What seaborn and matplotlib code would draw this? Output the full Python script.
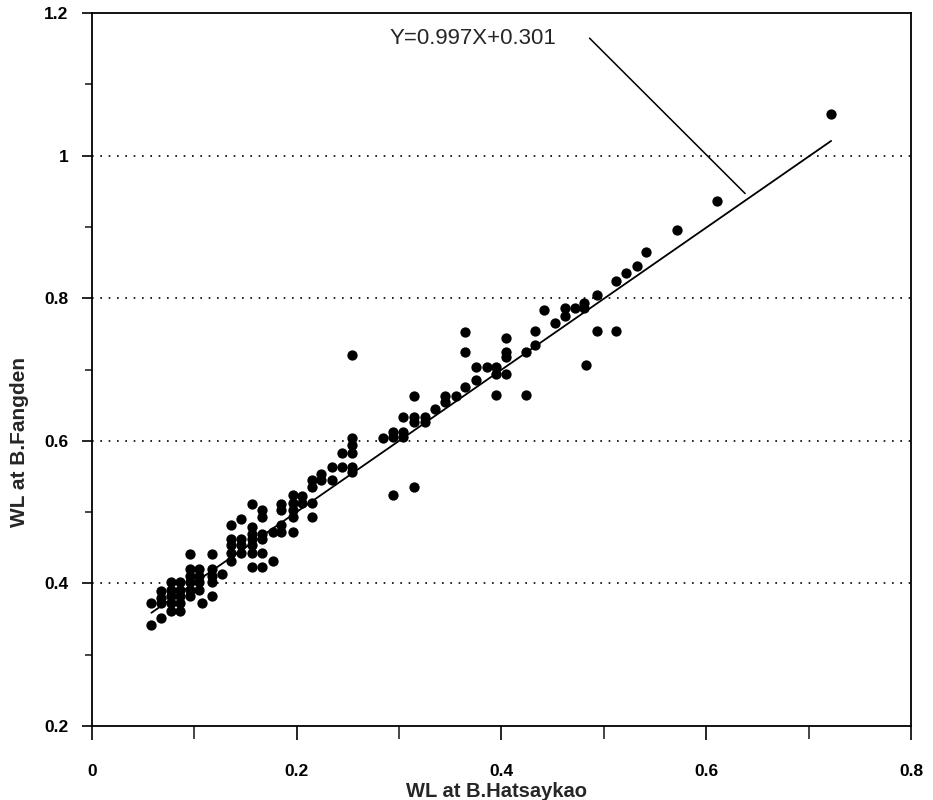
# ============================================================================
# LIBRARY IMPORTS
# ============================================================================
import pandas as pd
import matplotlib.pyplot as plt
from matplotlib.ticker import MultipleLocator
import seaborn as sns

# ============================================================================
# DATA
# ============================================================================
wl_hatsaykao = [
    0.058, 0.067, 0.058, 0.067, 0.067, 0.067,
    0.077, 0.077, 0.077, 0.077, 0.077,
    0.086, 0.086, 0.086, 0.086, 0.086,
    0.096, 0.096, 0.096, 0.096, 0.096, 0.096,
    0.105, 0.105, 0.105, 0.105, 0.107,
    0.117, 0.117, 0.117, 0.117, 0.117, 0.127,
    0.136, 0.136, 0.136, 0.136, 0.136,
    0.146, 0.146, 0.146, 0.146,
    0.156, 0.156, 0.156, 0.156, 0.156, 0.156, 0.156,
    0.166, 0.166, 0.166, 0.166, 0.166, 0.166,
    0.177, 0.177,
    0.185, 0.185, 0.185, 0.185,
    0.196, 0.196, 0.196, 0.196, 0.196,
    0.205, 0.205,
    0.215, 0.215, 0.215, 0.215,
    0.224, 0.224, 0.234, 0.234, 0.244, 0.244,
    0.254, 0.254, 0.254, 0.254, 0.254, 0.254,
    0.284, 0.294, 0.294, 0.294, 0.304, 0.304, 0.304,
    0.315, 0.315, 0.315, 0.315, 0.325, 0.325, 0.335,
    0.345, 0.345, 0.356, 0.364, 0.364, 0.364,
    0.375, 0.375, 0.386, 0.395, 0.395, 0.395,
    0.404, 0.404, 0.404, 0.404, 0.424, 0.424,
    0.433, 0.433, 0.442, 0.452, 0.462, 0.462, 0.472,
    0.481, 0.481, 0.483, 0.493, 0.493, 0.512, 0.512,
    0.522, 0.532, 0.541, 0.571, 0.611, 0.722,
]
wl_fangden = [
    0.341, 0.352, 0.372, 0.390, 0.380, 0.372,
    0.402, 0.391, 0.382, 0.372, 0.362,
    0.402, 0.391, 0.382, 0.372, 0.362,
    0.442, 0.420, 0.411, 0.402, 0.391, 0.382,
    0.420, 0.411, 0.402, 0.391, 0.372,
    0.442, 0.420, 0.411, 0.402, 0.383, 0.413,
    0.482, 0.463, 0.454, 0.443, 0.432,
    0.491, 0.463, 0.454, 0.443,
    0.511, 0.479, 0.470, 0.463, 0.454, 0.443, 0.423,
    0.503, 0.493, 0.470, 0.463, 0.443, 0.423,
    0.472, 0.432,
    0.512, 0.503, 0.482, 0.472,
    0.524, 0.513, 0.503, 0.493, 0.472,
    0.522, 0.513,
    0.545, 0.535, 0.513, 0.493,
    0.554, 0.545, 0.563, 0.545, 0.583, 0.563,
    0.721, 0.604, 0.594, 0.583, 0.563, 0.556,
    0.604, 0.613, 0.606, 0.524, 0.613, 0.606, 0.634,
    0.634, 0.627, 0.663, 0.535, 0.634, 0.627, 0.645,
    0.663, 0.655, 0.663, 0.753, 0.724, 0.675,
    0.704, 0.685, 0.704, 0.704, 0.694, 0.665,
    0.744, 0.724, 0.717, 0.694, 0.725, 0.665,
    0.754, 0.735, 0.784, 0.766, 0.786, 0.775, 0.786,
    0.794, 0.786, 0.706, 0.804, 0.754, 0.825, 0.754,
    0.836, 0.845, 0.865, 0.896, 0.937, 1.058,
]

# Regression line printed on the chart
slope = 0.997
intercept = 0.301
fit_x = [0.058, 0.722]
fit_y = [slope * v + intercept for v in fit_x]
equation_label = "Y=0.997X+0.301"

df = pd.DataFrame({"Hatsaykao": wl_hatsaykao, "Fangden": wl_fangden})

# ============================================================================
# SEABORN STYLING
# ============================================================================
sns.set_theme(style="ticks")
plt.rcParams['font.family'] = ['Liberation Sans', 'DejaVu Sans']

fig = plt.figure(figsize=(9.33, 8), dpi=100)
ax = fig.add_axes([0.0986, 0.0925, 0.8778, 0.891])

# ============================================================================
# SCATTER + FIT LINE
# ============================================================================
sns.scatterplot(data=df, x="Hatsaykao", y="Fangden", ax=ax,
                color="black", s=55, edgecolor="black", linewidth=0, zorder=3)
sns.lineplot(x=fit_x, y=fit_y, ax=ax, color="black", linewidth=1.3, zorder=4)

# Equation label with leader line
ax.text(0.291, 1.165, equation_label, fontsize=16, ha="left", va="center")
ax.plot([0.486, 0.638], [1.165, 0.947], color="black", linewidth=1.1)

# ============================================================================
# AXES
# ============================================================================
ax.set_xlim(0, 0.8)
ax.set_ylim(0.2, 1.2)
ax.xaxis.set_major_locator(MultipleLocator(0.2))
ax.xaxis.set_minor_locator(MultipleLocator(0.1))
ax.yaxis.set_major_locator(MultipleLocator(0.2))
ax.yaxis.set_minor_locator(MultipleLocator(0.1))
ax.xaxis.set_major_formatter(plt.FuncFormatter(lambda v, _: f"{v:g}"))
ax.yaxis.set_major_formatter(plt.FuncFormatter(lambda v, _: f"{v:g}"))

ax.tick_params(axis="x", which="major", direction="out", length=10, width=1.2,
               pad=17, labelsize=12.5, colors="black")
ax.tick_params(axis="x", which="minor", direction="out", length=9, width=1.2)
ax.tick_params(axis="y", which="major", direction="out", length=7, width=1.2,
               pad=10, labelsize=12.5, colors="black")
ax.tick_params(axis="y", which="minor", direction="out", length=5, width=1.2)
for lbl in ax.get_xticklabels() + ax.get_yticklabels():
    lbl.set_fontweight("bold")

for sp in ax.spines.values():
    sp.set_color("black")
    sp.set_linewidth(1.3)

# Dotted horizontal reference lines
for gy in [0.4, 0.6, 0.8, 1.0]:
    ax.axhline(gy, color="black", linestyle=(0, (1, 4)), linewidth=1.2, zorder=1)

ax.set_xlabel("WL at B.Hatsaykao", fontsize=14.5, fontweight="bold")
ax.set_ylabel("WL at B.Fangden", fontsize=15, fontweight="bold")
ax.xaxis.set_label_coords(0.494, -0.079)
ax.yaxis.set_label_coords(-0.077, 0.398)

# ============================================================================
# SAVE
# ============================================================================
fig.savefig("out.png", dpi=100)
